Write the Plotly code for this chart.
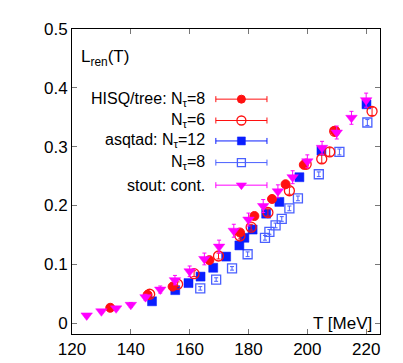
import plotly.graph_objects as go

# ---- data ----
stout_T = [125, 130, 135, 140, 145, 150, 155, 160, 165, 170, 175, 180, 185, 190, 195, 200, 205, 210, 215, 220]
stout_L = [0.013, 0.020, 0.025, 0.031, 0.044, 0.057, 0.073, 0.088, 0.109, 0.130, 0.157, 0.176, 0.199, 0.224, 0.248, 0.275, 0.298, 0.324, 0.349, 0.379]
stout_err = [0.003, 0.003, 0.003, 0.004, 0.005, 0.006, 0.008, 0.009, 0.010, 0.011, 0.011, 0.011, 0.011, 0.011, 0.011, 0.011, 0.011, 0.011, 0.011, 0.012]

hisq8_T = [133.0, 145.7, 154.2, 166.7, 177.1, 182.0, 188.0, 192.6, 198.8, 209.4]
hisq8_L = [0.026, 0.048, 0.062, 0.107, 0.154, 0.182, 0.211, 0.236, 0.269, 0.327]
hisq8_err = [0.002] * 10

hisq6_T = [146.4, 155.9, 161.5, 169.8, 177.1, 180.9, 186.6, 193.9, 199.6, 204.9, 207.6, 209.3, 222.0]
hisq6_L = [0.049, 0.066, 0.084, 0.114, 0.148, 0.163, 0.188, 0.225, 0.270, 0.279, 0.291, 0.326, 0.360]
hisq6_err = [0.003, 0.004, 0.005, 0.005, 0.005, 0.005, 0.006, 0.006, 0.006, 0.007, 0.007, 0.007, 0.007]

asq12_T = [147.2, 155.1, 159.6, 163.7, 168.0, 172.4, 176.9, 178.6, 181.4, 186.0, 190.5, 197.3, 204.8, 220.1]
asq12_L = [0.037, 0.056, 0.068, 0.079, 0.094, 0.113, 0.132, 0.145, 0.159, 0.186, 0.206, 0.248, 0.293, 0.372]
asq12_err = [0.002] * 14

asq8_T = [163.6, 169.0, 174.4, 179.7, 185.6, 187.1, 189.2, 191.3, 193.9, 196.8, 203.9, 210.9, 220.4]
asq8_L = [0.059, 0.074, 0.093, 0.117, 0.145, 0.155, 0.166, 0.177, 0.195, 0.212, 0.253, 0.291, 0.341]
asq8_err = [0.003, 0.003, 0.003, 0.004, 0.004, 0.004, 0.004, 0.004, 0.004, 0.004, 0.004, 0.005, 0.005]

x_ticks = [120, 140, 160, 180, 200, 220]
y_ticks = [0, 0.1, 0.2, 0.3, 0.4, 0.5]
y_ticklabels = ["0", "0.1", "0.2", "0.3", "0.4", "0.5"]

legend_labels = ["HISQ/tree: N<sub>τ</sub>=8", "N<sub>τ</sub>=6", "asqtad: N<sub>τ</sub>=12", "N<sub>τ</sub>=8", "stout: cont."]

RED = "#ff1010"
BLUE = "#0a1eff"
LBLUE = "#4a60ff"
MAG = "#ff00ff"
FS = 17
LFS = 16

styles = [
    dict(color=RED, symbol="circle", size=9, line=dict(width=1, color=RED)),
    dict(color=RED, symbol="circle-open", size=10, line=dict(width=1.3, color=RED)),
    dict(color=BLUE, symbol="square", size=9, line=dict(width=0.5, color=BLUE)),
    dict(color=LBLUE, symbol="square-open", size=9, line=dict(width=1.3, color=LBLUE)),
    dict(color=MAG, symbol="triangle-down", size=10, line=dict(width=0.5, color=MAG)),
]
errcolors = [RED, RED, BLUE, LBLUE, MAG]

fig = go.Figure()

series = [
    (hisq8_T, hisq8_L, hisq8_err),
    (hisq6_T, hisq6_L, hisq6_err),
    (asq12_T, asq12_L, asq12_err),
    (asq8_T, asq8_L, asq8_err),
    (stout_T, stout_L, stout_err),
]
# draw order: open squares, filled squares, open circles, filled circles, stout on top
order = [3, 2, 1, 0, 4]
for i in order:
    T, L, E = series[i]
    fig.add_trace(go.Scatter(
        x=T, y=L, mode="markers", marker=styles[i],
        error_y=dict(type="data", array=E, visible=True, color=errcolors[i], thickness=1, width=2),
        showlegend=False, hoverinfo="skip"))

# custom legend (samples on overlay axes in [0,1] coordinates)
leg_y = [0.770, 0.700, 0.633, 0.562, 0.488]
for i in range(5):
    fig.add_trace(go.Scatter(
        x=[0.550], y=[leg_y[i]], mode="markers", marker=dict(styles[i], size=styles[i]["size"] - 1),
        error_x=dict(type="constant", value=0.083, visible=True, color=errcolors[i], thickness=1, width=3),
        xaxis="x2", yaxis="y2", showlegend=False, hoverinfo="skip"))
    fig.add_annotation(x=0.436, y=leg_y[i], xref="paper", yref="paper", text=legend_labels[i],
                       showarrow=False, xanchor="right", yanchor="middle", borderpad=0,
                       font=dict(size=LFS, color="black"))

fig.add_annotation(x=0.022, y=0.905, xref="paper", yref="paper", text="L<sub>ren</sub>(T)",
                   showarrow=False, xanchor="left", yanchor="middle", font=dict(size=FS, color="black"))
fig.add_annotation(x=0.98, y=0.036, xref="paper", yref="paper", text="T [MeV]",
                   showarrow=False, xanchor="right", yanchor="middle", font=dict(size=FS, color="black"))

axis_common = dict(showgrid=False, zeroline=False, ticks="inside", ticklen=5, tickwidth=1,
                   tickcolor="#777", showline=True, linecolor="black", linewidth=1, mirror="allticks",
                   tickfont=dict(size=FS, color="black"))

fig.update_layout(
    width=403, height=363,
    margin=dict(l=64, r=31, t=20, b=36),
    paper_bgcolor="white", plot_bgcolor="white",
    font=dict(family="Liberation Sans, Arial, sans-serif", size=FS, color="black"),
    xaxis=dict(range=[120, 224.7], tickvals=x_ticks, **axis_common),
    yaxis=dict(range=[-0.0186, 0.5], tickvals=y_ticks, ticktext=y_ticklabels, **axis_common),
    xaxis2=dict(range=[0, 1], overlaying="x", visible=False),
    yaxis2=dict(range=[0, 1], overlaying="y", visible=False),
    showlegend=False,
)

fig.write_html("out.html")
